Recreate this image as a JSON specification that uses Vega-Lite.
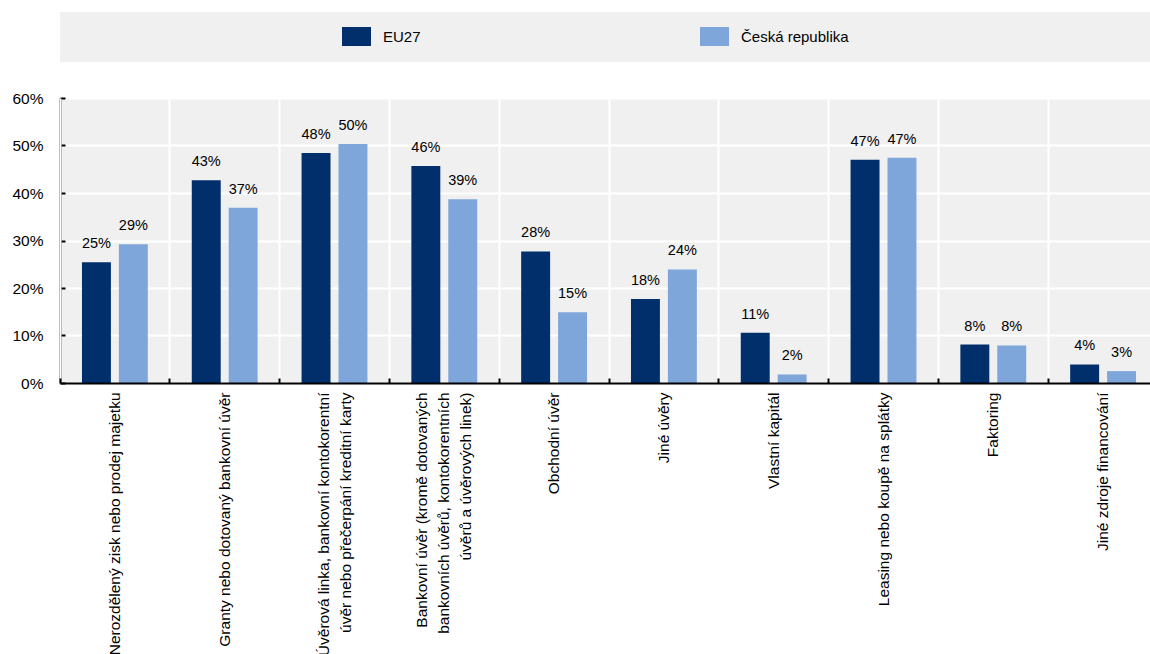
{
  "$schema": "https://vega.github.io/schema/vega-lite/v6.json",
  "autosize": {"type": "none"},
  "padding": {"left": 60, "top": 98, "right": 0, "bottom": 271},
  "width": 1090,
  "height": 285,
  "background": "white",
  "config": {"view": {"fill": "#f0f0f0", "stroke": null}, "font": "Liberation Sans"},
  "data": {"values": [
    {"category": "Nerozdělený zisk nebo prodej majetku", "series": "EU27", "value": 0.254},
    {"category": "Nerozdělený zisk nebo prodej majetku", "series": "Česká republika", "value": 0.292},
    {"category": "Granty nebo dotovaný bankovní úvěr", "series": "EU27", "value": 0.427},
    {"category": "Granty nebo dotovaný bankovní úvěr", "series": "Česká republika", "value": 0.369},
    {"category": "Úvěrová linka, bankovní kontokorentní\núvěr nebo přečerpání kreditní karty", "series": "EU27", "value": 0.484},
    {"category": "Úvěrová linka, bankovní kontokorentní\núvěr nebo přečerpání kreditní karty", "series": "Česká republika", "value": 0.503},
    {"category": "Bankovní úvěr (kromě dotovaných\nbankovních úvěrů, kontokorentních\núvěrů a úvěrových linek)", "series": "EU27", "value": 0.457},
    {"category": "Bankovní úvěr (kromě dotovaných\nbankovních úvěrů, kontokorentních\núvěrů a úvěrových linek)", "series": "Česká republika", "value": 0.387},
    {"category": "Obchodní úvěr", "series": "EU27", "value": 0.277},
    {"category": "Obchodní úvěr", "series": "Česká republika", "value": 0.149},
    {"category": "Jiné úvěry", "series": "EU27", "value": 0.177},
    {"category": "Jiné úvěry", "series": "Česká republika", "value": 0.239},
    {"category": "Vlastní kapitál", "series": "EU27", "value": 0.106},
    {"category": "Vlastní kapitál", "series": "Česká republika", "value": 0.018},
    {"category": "Leasing nebo koupě na splátky", "series": "EU27", "value": 0.470},
    {"category": "Leasing nebo koupě na splátky", "series": "Česká republika", "value": 0.474},
    {"category": "Faktoring", "series": "EU27", "value": 0.081},
    {"category": "Faktoring", "series": "Česká republika", "value": 0.079},
    {"category": "Jiné zdroje financování", "series": "EU27", "value": 0.039},
    {"category": "Jiné zdroje financování", "series": "Česká republika", "value": 0.025}
  ]},
  "layer": [
    {
      "data": {"values": [{}]},
      "mark": {"type": "rect", "color": "#f0f0f0"},
      "encoding": {
        "y": {"datum": 0.6758, "type": "quantitative", "title": null},
        "y2": {"datum": 0.781}
      }
    },
    {
      "mark": {"type": "bar"},
      "encoding": {
        "x": {
          "field": "category", "type": "nominal", "sort": null,
          "scale": {"range": [0, 1098], "paddingInner": 0, "paddingOuter": 0},
          "axis": {
            "orient": "bottom", "title": null, "labels": false, "bandPosition": 0,
            "grid": true, "gridColor": "white", "gridWidth": 2,
            "ticks": true, "tickSize": -5, "tickColor": "black", "tickWidth": 2,
            "domain": true, "domainColor": "black", "domainWidth": 2, "zindex": 1
          }
        },
        "xOffset": {
          "field": "series", "type": "nominal", "sort": ["EU27", "Česká republika"],
          "scale": {"paddingInner": 0.216, "paddingOuter": 0.595}
        },
        "y": {
          "field": "value", "type": "quantitative",
          "scale": {"domain": [0, 0.6], "nice": false},
          "axis": {
            "title": null, "format": ".0%", "values": [0, 0.1, 0.2, 0.3, 0.4, 0.5, 0.6],
            "grid": true, "gridColor": "white", "gridWidth": 2,
            "domain": true, "domainColor": "black", "domainWidth": 2,
            "ticks": true, "tickSize": -5, "tickColor": "black", "tickWidth": 2,
            "labelFont": "Liberation Sans", "labelFontSize": 15.5, "labelColor": "black",
            "labelPadding": 22
          }
        },
        "color": {
          "field": "series", "type": "nominal", "sort": ["EU27", "Česká republika"],
          "scale": {"range": ["#002F6C", "#7FA6DA"]},
          "legend": {
            "orient": "none", "legendX": 282, "legendY": -76, "direction": "horizontal",
            "title": null, "symbolType": "M-1,-0.655H1V0.655H-1Z", "symbolSize": 841,
            "symbolStrokeWidth": 0, "symbolOpacity": 1,
            "labelFont": "Liberation Sans", "labelFontSize": 15, "labelColor": "black",
            "labelOffset": 12, "columnPadding": 279
          }
        }
      }
    },
    {
      "mark": {"type": "text", "dy": -14, "baseline": "alphabetic", "fontSize": 14.5, "font": "Liberation Sans", "color": "black"},
      "encoding": {
        "x": {
          "field": "category", "type": "nominal", "sort": null,
          "axis": {
            "orient": "bottom", "title": null, "grid": false, "ticks": false, "domain": false,
            "labelAngle": -90, "labelAlign": "right", "labelBaseline": "middle",
            "labelPadding": 9, "labelFont": "Liberation Sans", "labelFontSize": 15.5,
            "labelLineHeight": 22, "labelColor": "black", "labelLimit": 0, "labelOverlap": false,
            "labelExpr": "split(datum.label, '\\n')",
            "labelOffset": {
              "condition": [
                {"test": "length(split(datum.value, '\\n')) == 3", "value": -22},
                {"test": "length(split(datum.value, '\\n')) == 2", "value": -11}
              ],
              "value": 0
            }
          }
        },
        "xOffset": {"field": "series", "type": "nominal", "sort": ["EU27", "Česká republika"]},
        "y": {"field": "value", "type": "quantitative"},
        "text": {"field": "value", "type": "quantitative", "format": ".0%"}
      }
    }
  ],
  "resolve": {"axis": {"x": "independent"}}
}
